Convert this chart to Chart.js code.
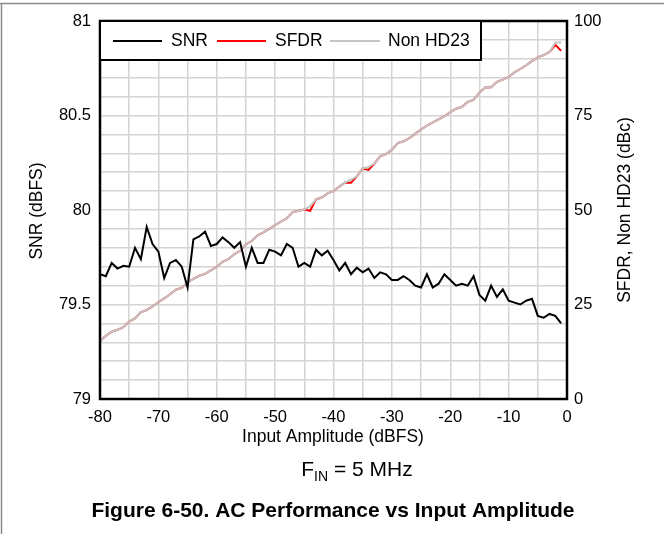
<!DOCTYPE html>
<html>
<head>
<meta charset="utf-8">
<script src="https://cdn.jsdelivr.net/npm/chart.js@4.4.0/dist/chart.umd.min.js"></script>
<style>
  html, body { margin: 0; padding: 0; background: #fff; }
  #chart { display: block; }
</style>
</head>
<body>
<canvas id="chart" width="664" height="534"></canvas>
<script>
// input amplitude (dBFS), one point per dB
const amplitude = [
  -80, -79, -78, -77, -76, -75, -74, -73, -72, -71,
  -70, -69, -68, -67, -66, -65, -64, -63, -62, -61,
  -60, -59, -58, -57, -56, -55, -54, -53, -52, -51,
  -50, -49, -48, -47, -46, -45, -44, -43, -42, -41,
  -40, -39, -38, -37, -36, -35, -34, -33, -32, -31,
  -30, -29, -28, -27, -26, -25, -24, -23, -22, -21,
  -20, -19, -18, -17, -16, -15, -14, -13, -12, -11,
  -10, -9, -8, -7, -6, -5, -4, -3, -2, -1
];

// SNR (dBFS), left axis
const snr = [
  79.66, 79.65, 79.72, 79.69, 79.705, 79.70, 79.80, 79.74, 79.91, 79.82,
  79.78, 79.64, 79.72, 79.735, 79.70, 79.59, 79.845, 79.86, 79.885, 79.81,
  79.82, 79.855, 79.83, 79.80, 79.83, 79.70, 79.80, 79.72, 79.72, 79.79,
  79.78, 79.76, 79.82, 79.80, 79.70, 79.72, 79.70, 79.79, 79.76, 79.785,
  79.735, 79.68, 79.72, 79.66, 79.695, 79.67, 79.69, 79.64, 79.67, 79.66,
  79.63, 79.63, 79.65, 79.63, 79.60, 79.59, 79.66, 79.59, 79.61, 79.66,
  79.63, 79.60, 79.61, 79.60, 79.65, 79.55, 79.52, 79.60, 79.54, 79.58,
  79.52, 79.51, 79.50, 79.52, 79.53, 79.44, 79.43, 79.45, 79.44, 79.40
];

// SFDR (dBc), right axis
const sfdr = [
  15.3, 16.7, 17.8, 18.3, 19.0, 20.5, 21.3, 23.0, 23.5, 24.5,
  25.6, 26.6, 27.7, 28.9, 29.4, 30.9, 31.8, 32.6, 33.1, 34.0,
  35.0, 36.3, 37.0, 38.3, 39.2, 40.9, 41.8, 43.3, 44.1, 45.0,
  46.0, 46.9, 47.8, 49.4, 49.8, 50.1, 49.8, 52.8, 53.3, 54.4,
  55.0, 56.2, 57.3, 57.2, 58.9, 61.0, 60.6, 62.3, 64.2, 64.8,
  65.9, 67.7, 68.2, 69.0, 70.2, 71.3, 72.3, 73.2, 74.0, 74.8,
  75.9, 76.8, 77.3, 78.6, 79.1, 81.1, 82.4, 82.5, 83.9, 84.5,
  85.2, 86.4, 87.3, 88.3, 89.4, 90.4, 91.0, 91.8, 93.7, 92.1
];

// Non HD23 (dBc), right axis
const nonHd23 = [
  15.3, 16.7, 17.8, 18.3, 19.0, 20.5, 21.3, 23.0, 23.5, 24.5,
  25.6, 26.6, 27.7, 28.9, 29.4, 30.9, 31.8, 32.6, 33.1, 34.0,
  35.0, 36.3, 37.0, 38.3, 39.2, 40.9, 41.8, 43.3, 44.1, 45.0,
  46.0, 46.9, 47.8, 49.4, 49.8, 50.1, 51.0, 52.8, 53.3, 54.4,
  55.0, 56.2, 57.3, 58.0, 58.9, 61.0, 61.4, 62.3, 64.2, 64.8,
  65.9, 67.7, 68.2, 69.0, 70.2, 71.3, 72.3, 73.2, 74.0, 74.8,
  75.9, 76.8, 77.3, 78.6, 79.1, 81.1, 82.4, 82.5, 83.9, 84.5,
  85.2, 86.4, 87.3, 88.3, 89.4, 90.4, 91.0, 91.8, 94.3, 94.3
];

const seriesNames = ['SNR', 'SFDR', 'Non HD23'];
const seriesColors = ['#000000', '#ff0000', '#c4c4c4'];

const FONT = '"Liberation Sans", Arial, sans-serif';
const gridColor = '#d4d4d4';

const toPoints = vals => vals.map((v, i) => ({ x: amplitude[i], y: v }));

// frame, legend box, titles and caption
const decorations = {
  id: 'decorations',
  afterDraw(chart) {
    const ctx = chart.ctx;
    const a = chart.chartArea;
    ctx.save();

    // page frame
    ctx.strokeStyle = '#8a8a8a';
    ctx.lineWidth = 1.5;
    ctx.beginPath();
    ctx.moveTo(0, 3.5); ctx.lineTo(664, 3.5);
    ctx.moveTo(1.5, 3.5); ctx.lineTo(1.5, 534);
    ctx.stroke();

    // plot border
    ctx.strokeStyle = '#000';
    ctx.lineWidth = 2.5;
    ctx.strokeRect(a.left, a.top, a.right - a.left, a.bottom - a.top);

    // legend box
    const lx = a.left, ly = a.top, lw = 381, lh = 39;
    ctx.fillStyle = '#fff';
    ctx.fillRect(lx, ly, lw, lh);
    ctx.lineWidth = 2;
    ctx.strokeRect(lx, ly, lw, lh);
    const entries = [
      { x0: 113, x1: 162, tx: 171 },
      { x0: 217, x1: 266, tx: 275 },
      { x0: 330, x1: 380, tx: 388 }
    ];
    ctx.font = '17.5px ' + FONT;
    ctx.textBaseline = 'middle';
    ctx.textAlign = 'left';
    entries.forEach((e, i) => {
      ctx.strokeStyle = seriesColors[i];
      ctx.lineWidth = 2;
      ctx.beginPath();
      ctx.moveTo(e.x0, ly + 20); ctx.lineTo(e.x1, ly + 20);
      ctx.stroke();
      ctx.fillStyle = '#000';
      ctx.fillText(seriesNames[i], e.tx, ly + 20);
    });

    // axis titles
    ctx.fillStyle = '#000';
    ctx.font = '17.5px ' + FONT;
    ctx.textAlign = 'center';
    ctx.textBaseline = 'middle';
    ctx.fillText('Input Amplitude (dBFS)', 333, 437);

    ctx.save();
    ctx.translate(37, 211);
    ctx.rotate(-Math.PI / 2);
    ctx.fillText('SNR (dBFS)', 0, 0);
    ctx.restore();

    ctx.save();
    ctx.translate(625, 210);
    ctx.rotate(-Math.PI / 2);
    ctx.fillText('SFDR, Non HD23 (dBc)', 0, 0);
    ctx.restore();

    // F_IN = 5 MHz
    ctx.textAlign = 'left';
    ctx.textBaseline = 'alphabetic';
    const big = '21px ' + FONT, small = '14px ' + FONT;
    ctx.font = big;
    const wF = ctx.measureText('F').width;
    const wRest = ctx.measureText(' = 5 MHz').width;
    ctx.font = small;
    const wSub = ctx.measureText('IN').width;
    let x = 357 - (wF + wSub + wRest) / 2;
    ctx.font = big;
    ctx.fillText('F', x, 476);
    x += wF;
    ctx.font = small;
    ctx.fillText('IN', x, 481);
    x += wSub;
    ctx.font = big;
    ctx.fillText(' = 5 MHz', x, 476);

    // figure caption
    ctx.font = 'bold 21px ' + FONT;
    ctx.textAlign = 'center';
    ctx.fillText('Figure 6-50. AC Performance vs Input Amplitude', 333, 517);

    ctx.restore();
  }
};

const ctx = document.getElementById('chart').getContext('2d');
new Chart(ctx, {
  type: 'line',
  data: {
    datasets: [
      { label: seriesNames[0], data: toPoints(snr), yAxisID: 'y', borderColor: seriesColors[0], borderWidth: 2, order: 0 },
      { label: seriesNames[1], data: toPoints(sfdr), yAxisID: 'y1', borderColor: seriesColors[1], borderWidth: 2, order: 2 },
      { label: seriesNames[2], data: toPoints(nonHd23), yAxisID: 'y1', borderColor: seriesColors[2], borderWidth: 2, order: 1 }
    ]
  },
  options: {
    responsive: false,
    animation: false,
    devicePixelRatio: 1,
    layout: { padding: { top: 21, left: 0, right: 0, bottom: 0 } },
    elements: { point: { radius: 0 }, line: { tension: 0 } },
    plugins: { legend: { display: false }, tooltip: { enabled: false } },
    scales: {
      x: {
        type: 'linear',
        min: -80, max: 0,
        grid: { color: gridColor, lineWidth: 1.5, drawTicks: false },
        border: { display: false },
        ticks: {
          stepSize: 5, padding: 9, color: '#000', maxRotation: 0, autoSkip: false,
          font: { family: FONT, size: 16.5 },
          callback: v => (v % 10 === 0 ? String(v) : '')
        },
        afterFit: s => { s.height = 135; }
      },
      y: {
        position: 'left',
        min: 79, max: 81,
        grid: { color: gridColor, lineWidth: 1.5, drawTicks: false },
        border: { display: false },
        ticks: {
          stepSize: 0.1, padding: 9, color: '#000', autoSkip: false,
          font: { family: FONT, size: 16.5 },
          callback: v => (Math.abs(v * 2 - Math.round(v * 2)) < 1e-6 ? String(Math.round(v * 2) / 2) : '')
        },
        afterFit: s => { s.width = 100; }
      },
      y1: {
        position: 'right',
        min: 0, max: 100,
        grid: { display: false, drawTicks: false },
        border: { display: false },
        ticks: {
          stepSize: 25, padding: 7, color: '#000',
          font: { family: FONT, size: 16.5 }
        },
        afterFit: s => { s.width = 97; }
      }
    }
  },
  plugins: [decorations]
});
</script>
</body>
</html>
